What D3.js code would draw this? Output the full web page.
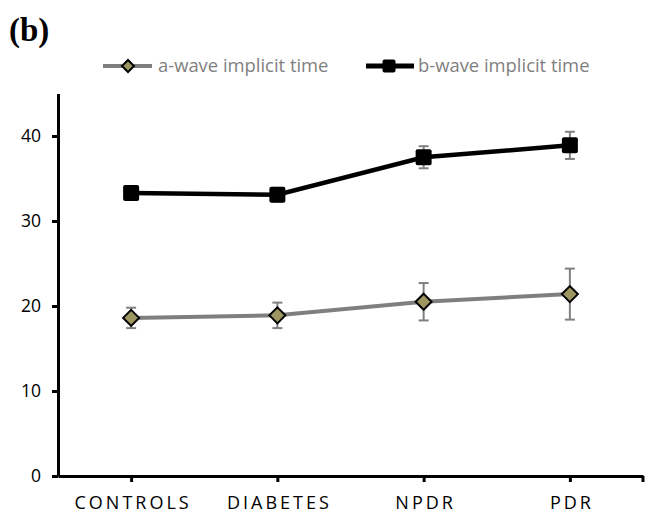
<!DOCTYPE html>
<html><head><meta charset="utf-8">
<script src="https://cdn.jsdelivr.net/npm/d3@7"></script>
<style>
html,body{margin:0;padding:0;background:#fff;}
svg{display:block;}
</style></head>
<body>
<svg id="chart" width="654" height="515"></svg>
<script>
const categories = ["CONTROLS", "DIABETES", "NPDR", "PDR"];
const aWave = [18.6, 18.9, 20.5, 21.4];
const aErr = [1.2, 1.5, 2.2, 3.0];
const bWave = [33.3, 33.1, 37.5, 38.9];
const bErr = [0.8, 0.8, 1.3, 1.6];
const yTicks = [0, 10, 20, 30, 40];
const seriesNames = ["a-wave implicit time", "b-wave implicit time"];

const svg = d3.select("#chart");
const x = d3.scalePoint().domain(categories).range([58, 643]).padding(0.5);
const y = d3.scaleLinear().domain([0, 45]).range([476, 93.5]);
const FONT = "'Open Sans', sans-serif";

// title
svg.append("text").attr("x", 9).attr("y", 41)
  .attr("font-family", "'Liberation Serif', 'Times New Roman', serif")
  .attr("font-weight", "bold").attr("font-size", 33).text("(b)");

// y axis
const yAx = svg.append("g").attr("transform", "translate(58,0)")
  .call(d3.axisLeft(y).tickValues(yTicks).tickSize(6).tickSizeOuter(0).tickPadding(11));
yAx.selectAll("path,line").attr("stroke", "#000").attr("stroke-width", 3);
yAx.selectAll("text").attr("font-family", FONT).attr("font-size", 17.5).attr("fill", "#000");

// x axis
const xAx = svg.append("g").attr("transform", "translate(0,476)")
  .call(d3.axisBottom(x).tickSize(6).tickSizeOuter(0).tickPadding(14));
xAx.append("line").attr("x1", x.range()[1]).attr("x2", x.range()[1]).attr("y1", 0).attr("y2", 6);
xAx.selectAll("path,line").attr("stroke", "#000").attr("stroke-width", 3);
xAx.selectAll("text").attr("font-family", FONT).attr("font-size", 18).attr("fill", "#000")
  .attr("letter-spacing", "3px").attr("dx", "1.5px");

const line = d3.line().x((d, i) => x(categories[i])).y(d => y(d));

// lines
svg.append("path").datum(aWave).attr("d", line).attr("fill", "none")
  .attr("stroke", "#7f7f7f").attr("stroke-width", 4);
svg.append("path").datum(bWave).attr("d", line).attr("fill", "none")
  .attr("stroke", "#000").attr("stroke-width", 4.5);

// error bars
function errBars(vals, errs) {
  const g = svg.append("g").attr("stroke", "#808080").attr("stroke-width", 2);
  vals.forEach((v, i) => {
    const cx = x(categories[i]);
    const t = y(v + errs[i]), b = y(v - errs[i]);
    g.append("line").attr("x1", cx).attr("x2", cx).attr("y1", t).attr("y2", b);
    g.append("line").attr("x1", cx - 5).attr("x2", cx + 5).attr("y1", t).attr("y2", t);
    g.append("line").attr("x1", cx - 5).attr("x2", cx + 5).attr("y1", b).attr("y2", b);
  });
}
errBars(aWave, aErr);
errBars(bWave, bErr);

function diamond(g, cx, cy, r) {
  g.append("path").attr("d", `M${cx},${cy - r}L${cx + r},${cy}L${cx},${cy + r}L${cx - r},${cy}Z`)
    .attr("fill", "#9d9660").attr("stroke", "#000").attr("stroke-width", 2);
}
function square(g, cx, cy, s) {
  g.append("rect").attr("x", cx - s / 2).attr("y", cy - s / 2).attr("width", s).attr("height", s)
    .attr("rx", 2).attr("fill", "#000");
}

const mk = svg.append("g");
aWave.forEach((v, i) => diamond(mk, x(categories[i]), y(v), 8));
bWave.forEach((v, i) => square(mk, x(categories[i]), y(v), 16));

// legend
const lg = svg.append("g");
const ly = 66;
lg.append("line").attr("x1", 103).attr("x2", 152).attr("y1", ly).attr("y2", ly)
  .attr("stroke", "#7f7f7f").attr("stroke-width", 4);
diamond(lg, 128, ly, 6);
lg.append("text").attr("x", 158).attr("y", ly).attr("dy", "0.35em")
  .attr("font-family", FONT).attr("font-size", 18.4).attr("fill", "#7f7f7f").text(seriesNames[0]);
lg.append("line").attr("x1", 366).attr("x2", 414).attr("y1", ly).attr("y2", ly)
  .attr("stroke", "#000").attr("stroke-width", 5);
square(lg, 389, ly, 13);
lg.append("text").attr("x", 418).attr("y", ly).attr("dy", "0.35em")
  .attr("font-family", FONT).attr("font-size", 18.4).attr("fill", "#7f7f7f").text(seriesNames[1]);
</script>
</body></html>
